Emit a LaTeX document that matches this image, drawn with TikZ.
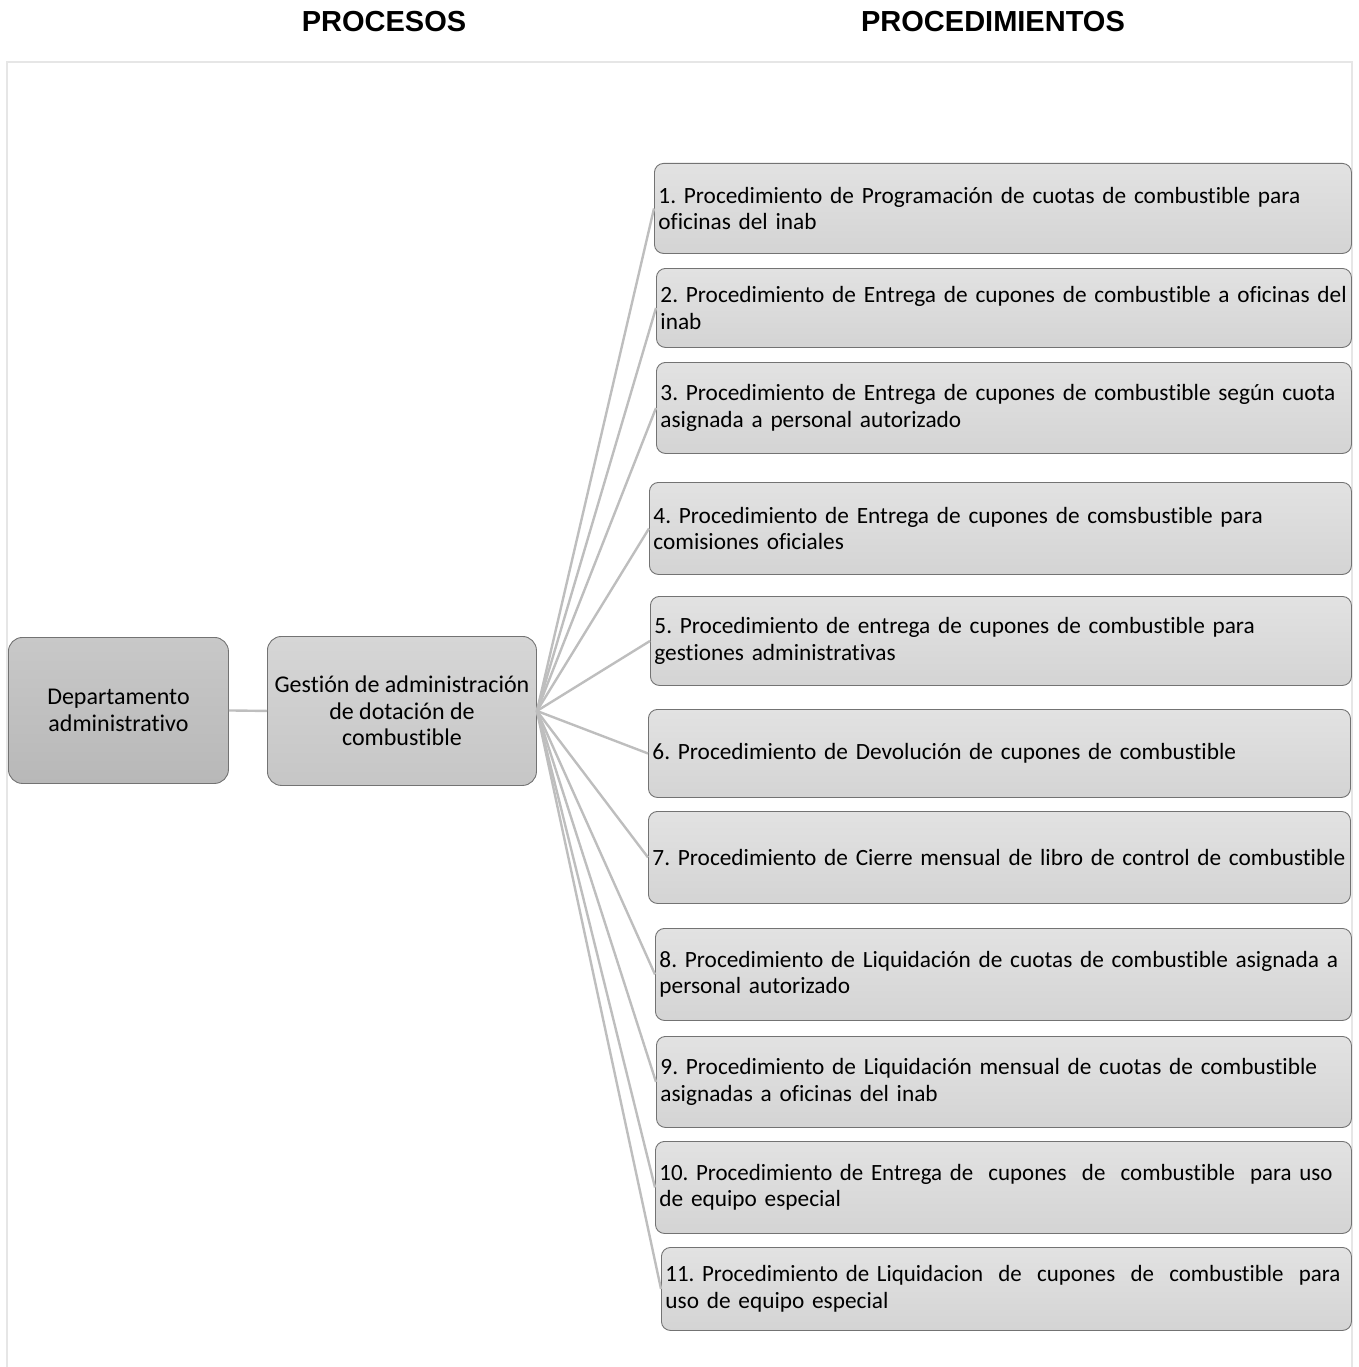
\documentclass[tikz,border=0pt]{standalone}
\usepackage{fontspec}
\usepackage{graphicx}
\setmainfont{Carlito}[Ligatures={NoCommon}]
\newfontfamily\hdrfont{Liberation Sans}
\usetikzlibrary{shadings}
\frenchspacing
\definecolor{boxline}{RGB}{115,115,115}
\definecolor{rtop}{RGB}{226,226,226}
\definecolor{rbot}{RGB}{212,212,212}
\definecolor{mtop}{RGB}{214,214,214}
\definecolor{mbot}{RGB}{198,198,198}
\definecolor{ltop}{RGB}{200,200,200}
\definecolor{lbot}{RGB}{184,184,184}
\definecolor{conn}{RGB}{190,190,190}
\definecolor{framecol}{RGB}{230,230,230}
\newcommand{\dsp}{\ \ }
\tikzset{
  procbox/.style={draw=boxline, line width=0.9pt, rounded corners=9pt, top color=rtop, bottom color=rbot,
    inner xsep=4pt, inner ysep=0pt, anchor=north west, align=left, font=\fontsize{23.3}{26.5}\selectfont},
  bigbox/.style={draw=boxline, line width=0.9pt, rounded corners=14pt, inner sep=0pt, anchor=north west, align=center,
    font=\fontsize{24}{26.5}\selectfont},
  connector/.style={draw=conn, line width=2.4pt},
  header/.style={font=\hdrfont\bfseries\fontsize{29}{32}\selectfont, anchor=base}
}
\begin{document}
\begin{tikzpicture}[x=1pt,y=-1pt]
\useasboundingbox (0,0) rectangle (1358,1367);
\draw[framecol, line width=2pt] (7,1372) -- (7,62) -- (1352,62) -- (1352,1372);
\node[header] (hproc) at (384,32) {PROCESOS};
\node[header] (hprocd) at (993,32) {PROCEDIMIENTOS};

\node[bigbox, top color=ltop, bottom color=lbot, minimum width=220pt, minimum height=146pt] (dep) at (8,637) {Departamento\\administrativo};
\node[bigbox, top color=mtop, bottom color=mbot, minimum width=269pt, minimum height=149pt] (ges) at (267,636) {Gestión de administración\\de dotación de\\combustible};

\node[procbox, text width=689pt, minimum height=90pt] (p1) at (654,163) {\mbox{1. Procedimiento de Programación de cuotas de combustible para}\\oficinas del inab};
\node[procbox, text width=687pt, minimum height=79pt] (p2) at (656,268) {\mbox{2. Procedimiento de Entrega de cupones de combustible a oficinas del}\\inab};
\node[procbox, text width=687pt, minimum height=91pt] (p3) at (656,362) {\mbox{3. Procedimiento de Entrega de cupones de combustible según cuota}\\asignada a personal autorizado};
\node[procbox, text width=694pt, minimum height=92pt] (p4) at (649,482) {\mbox{4. Procedimiento de Entrega de cupones de comsbustible para}\\comisiones oficiales};
\node[procbox, text width=693pt, minimum height=89pt] (p5) at (650,596) {\mbox{5. Procedimiento de entrega de cupones de combustible para}\\gestiones administrativas};
\node[procbox, text width=694pt, minimum height=88pt] (p6) at (648,709) {\mbox{6. Procedimiento de Devolución de cupones de combustible}};
\node[procbox, text width=694pt, minimum height=92pt] (p7) at (648,811) {\mbox{7. Procedimiento de Cierre mensual de libro de control de combustible}};
\node[procbox, text width=688pt, minimum height=92pt] (p8) at (655,928) {\mbox{8. Procedimiento de Liquidación de cuotas de combustible asignada a}\\personal autorizado};
\node[procbox, text width=687pt, minimum height=91pt] (p9) at (656,1036) {\mbox{9. Procedimiento de Liquidación mensual de cuotas de combustible}\\asignadas a oficinas del inab};
\node[procbox, text width=688pt, minimum height=92pt] (p10) at (655,1141) {\resizebox{673pt}{\height}{10. Procedimiento de Entrega de\dsp cupones\dsp de\dsp combustible\dsp para uso}\\de equipo especial};
\node[procbox, text width=682pt, minimum height=83pt] (p11) at (661,1247) {\resizebox{675pt}{\height}{11. Procedimiento de Liquidacion\dsp de\dsp cupones\dsp de\dsp combustible\dsp para}\\uso de equipo especial};

\draw[connector] (dep.east) -- (ges.west);
\foreach \i in {1,...,11} {
  \draw[connector] (ges.east) -- (p\i.west);
}
\end{tikzpicture}
\end{document}
